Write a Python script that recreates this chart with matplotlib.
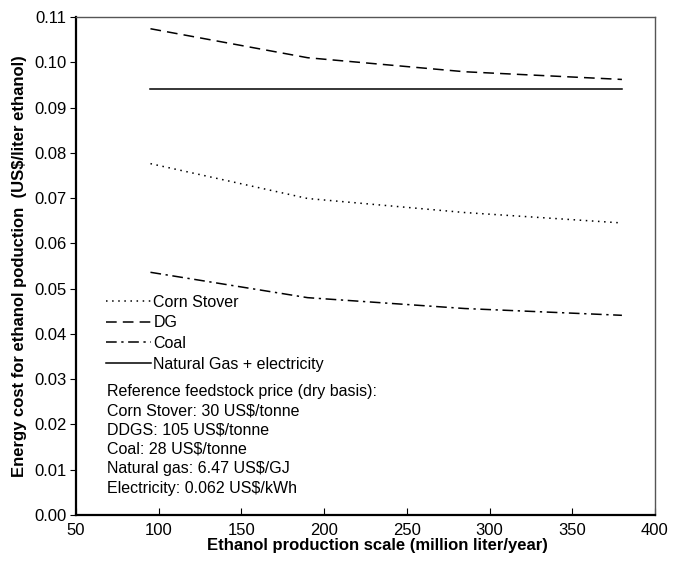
import matplotlib.pyplot as plt
from matplotlib.lines import Line2D

plt.rcParams['font.family'] = ['Liberation Sans', 'DejaVu Sans']

# ethanol production scale (million liter/year)
scale = [95, 190, 285, 380]

# energy cost (US$/liter ethanol)
corn_stover = [0.0776, 0.0699, 0.0668, 0.0645]
dg = [0.1074, 0.1010, 0.0979, 0.0962]
coal = [0.0536, 0.0480, 0.0456, 0.0441]
natgas_elec = [0.0940, 0.0940, 0.0940, 0.0940]

labels = ['Corn Stover', 'DG', 'Coal', 'Natural Gas + electricity']

notes = ['Reference feedstock price (dry basis):',
         'Corn Stover: 30 US$/tonne',
         'DDGS: 105 US$/tonne',
         'Coal: 28 US$/tonne',
         'Natural gas: 6.47 US$/GJ',
         'Electricity: 0.062 US$/kWh']

fig = plt.figure(figsize=(6.77, 5.62), dpi=100)
ax = fig.add_axes([0.1123, 0.0837, 0.8552, 0.8861])

lw = 1.1
ax.plot(scale, corn_stover, color='k', lw=lw, linestyle=(0, (1, 3)))
ax.plot(scale, dg, color='k', lw=lw, linestyle=(0, (7, 4)))
ax.plot(scale, coal, color='k', lw=lw, linestyle=(0, (7, 3, 1.5, 3)))
ax.plot(scale, natgas_elec, color='k', lw=lw, linestyle='-')

ax.set_xlim(50, 400)
ax.set_ylim(0, 0.11)
ax.set_xticks([50, 100, 150, 200, 250, 300, 350, 400])
ax.set_yticks([i / 100 for i in range(12)])
ax.set_yticklabels(['%.2f' % (i / 100) for i in range(12)])
ax.tick_params(axis='x', direction='in', length=5, labelsize=12, pad=6)
ax.tick_params(axis='y', direction='out', length=4, labelsize=12, pad=3)
for s in ['left', 'bottom']:
    ax.spines[s].set_linewidth(1.6)
for s in ['top', 'right']:
    ax.spines[s].set_linewidth(1.0)
    ax.spines[s].set_color('#555555')

ax.set_xlabel('Ethanol production scale (million liter/year)', fontsize=12,
              fontweight='bold', labelpad=0, x=0.52)
ax.set_ylabel('Energy cost for ethanol poduction  (US$/liter ethanol)',
              fontsize=12, fontweight='bold', labelpad=5)

handles = [Line2D([], [], color='k', lw=lw, linestyle=(0, (1, 3))),
           Line2D([], [], color='k', lw=lw, linestyle=(0, (7, 4))),
           Line2D([], [], color='k', lw=lw, linestyle=(0, (7, 3, 1.5, 3))),
           Line2D([], [], color='k', lw=lw, linestyle='-')]
ax.legend(handles, labels, loc='upper left', bbox_to_anchor=(0.040, 0.455),
          frameon=False, fontsize=11.5, handlelength=2.85, handletextpad=0.15,
          labelspacing=0.35, borderaxespad=0)

ax.text(0.053, 0.263, '\n'.join(notes), transform=ax.transAxes, fontsize=11.5,
        va='top', ha='left', linespacing=1.36)

fig.savefig('out.png', dpi=100)
